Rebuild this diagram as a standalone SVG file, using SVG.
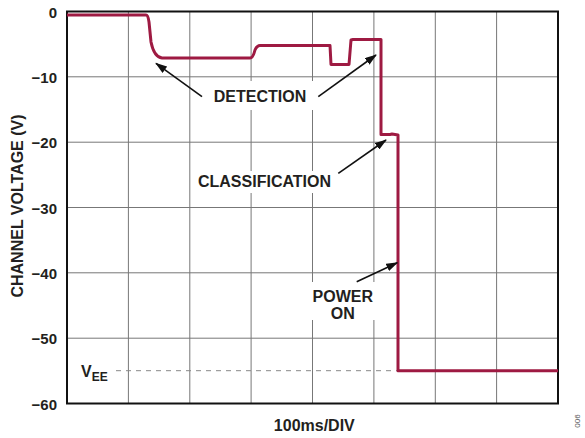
<svg xmlns="http://www.w3.org/2000/svg" width="585" height="438" viewBox="0 0 585 438">
<defs>
<style>
.t{font-family:"Liberation Sans",Arial,sans-serif;font-weight:bold;fill:#231f20}
.tick{font-size:15px;text-anchor:end}
.lab{font-size:16px;text-anchor:middle}
.grid{stroke:#777;stroke-width:1;fill:none}
.arr{stroke:#111;stroke-width:1.6;fill:none;marker-end:url(#ah)}
.bg{fill:#fff}
</style>
<marker id="ah" viewBox="0 0 12 8" refX="11" refY="4" markerWidth="12" markerHeight="8" markerUnits="userSpaceOnUse" orient="auto">
<path d="M0,0 L12,4 L0,8 Z" fill="#111"/>
</marker>
</defs>
<rect width="585" height="438" fill="#fff"/>
<g id="grid">
<path class="grid" d="M128.4,11.5V403.5M189.8,11.5V403.5M251.1,11.5V403.5M312.5,11.5V403.5M373.9,11.5V403.5M435.3,11.5V403.5M496.6,11.5V403.5"/>
<path class="grid" d="M67,76.8H558M67,142.2H558M67,207.5H558M67,272.8H558M67,338.2H558"/>
</g>
<g id="label-backgrounds">
<rect class="bg" x="205" y="81" width="112" height="29"/>
<rect class="bg" x="194" y="171" width="141" height="22"/>
<rect class="bg" x="305" y="282" width="76" height="38"/>
</g>
<g id="vee-line">
<path d="M116,370.7H398" stroke="#888" stroke-width="1" stroke-dasharray="5,5" fill="none"/>
</g>
<rect id="frame" x="67" y="11.5" width="491" height="392" fill="none" stroke="#111" stroke-width="2"/>
<g id="trace">
<path d="M67,15 L146,15 Q148,15 149,22 L151,42 Q154,57 162,58 L250,58 Q253,58 255,50 Q257,45.5 260,45.5 L330,45.5 L331,64.5 L349,64.5 L351,40 L353,39.5 L381,39.5 L381,134.5 L390,134.5 L392,134 L398,135 L398,370.7 L558,370.7" fill="none" stroke="#9e1a42" stroke-width="3" stroke-linejoin="round"/>
</g>
<g id="connectors">
<line class="arr" x1="202" y1="96.7" x2="156" y2="63.3"/>
<line class="arr" x1="318.3" y1="96.7" x2="376" y2="55"/>
<line class="arr" x1="338.3" y1="173.3" x2="386" y2="140"/>
<line class="arr" x1="356.7" y1="281.7" x2="397.3" y2="262.7"/>
</g>
<g id="detection">
<text class="t lab" x="260" y="101.7">DETECTION</text>
</g>
<g id="classification">
<text class="t lab" x="264.5" y="187">CLASSIFICATION</text>
</g>
<g id="power-on">
<text class="t lab" x="342.8" y="301.5" font-size="15.5">POWER</text>
<text class="t lab" x="342.8" y="318.5" font-size="15.5">ON</text>
</g>
<g id="vee">
<text class="t" x="81" y="377.3" font-size="16">V<tspan font-size="12" dy="3.7">EE</tspan></text>
</g>
<g id="y-ticks">
<text class="t tick" x="57" y="17.5">0</text>
<text class="t tick" x="57" y="83">−10</text>
<text class="t tick" x="57" y="148.3">−20</text>
<text class="t tick" x="57" y="213.6">−30</text>
<text class="t tick" x="57" y="279">−40</text>
<text class="t tick" x="57" y="344.3">−50</text>
<text class="t tick" x="57" y="409.6">−60</text>
</g>
<g id="axis-titles">
<text class="t lab" transform="translate(23.3,206) rotate(-90)">CHANNEL VOLTAGE (V)</text>
<text class="t lab" x="314.3" y="430.7">100ms/DIV</text>
</g>
<text transform="translate(580,421) rotate(-90)" font-family="Liberation Sans,Arial,sans-serif" font-size="8" fill="#555" text-anchor="middle">006</text>
</svg>
